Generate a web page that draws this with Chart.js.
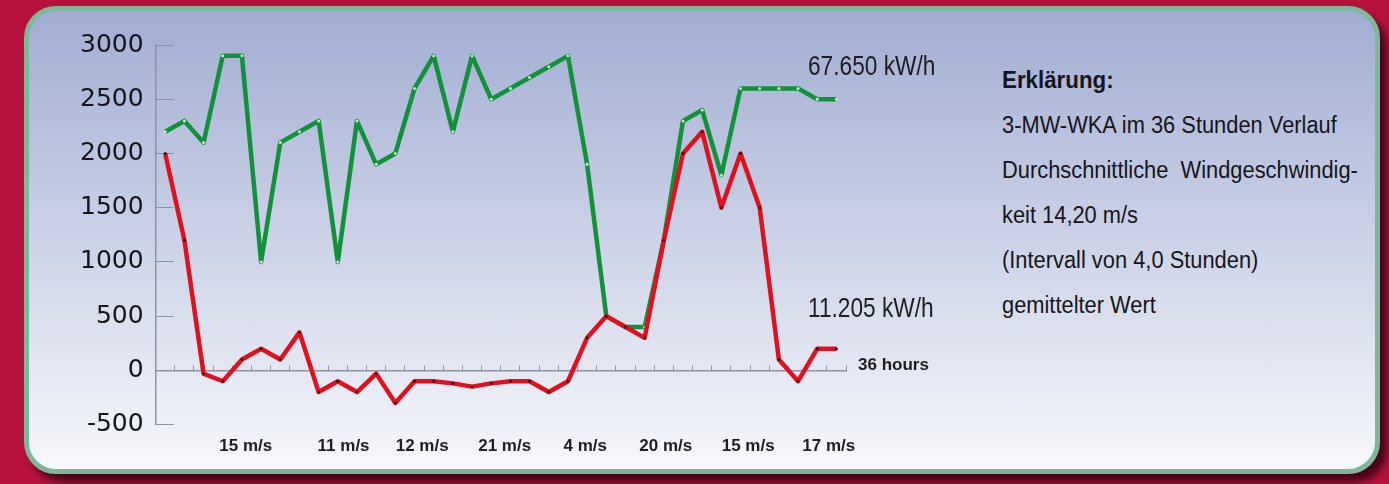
<!DOCTYPE html>
<html lang="de">
<head>
    <meta charset="UTF-8">
    <title>3-MW-WKA im 36 Stunden Verlauf</title>
    <script src="https://cdn.jsdelivr.net/npm/chart.js"></script>
    <style>
        html, body {
            margin: 0;
            padding: 0;
            width: 1389px;
            height: 484px;
            overflow: hidden;
            background: #b6123d;
        }
        .panel {
            position: absolute;
            left: 24px;
            top: 6px;
            width: 1356px;
            height: 468px;
            box-sizing: border-box;
            border: 5px solid #7db89b;
            border-radius: 32px;
            background: linear-gradient(#a1add2, #f7f8fc);
            box-shadow: 7px 8px 7px rgba(60, 4, 20, 0.9);
        }
        .chart-box {
            position: absolute;
            left: 0;
            top: 0;
            width: 960px;
            height: 484px;
        }
        /* schmale Schrift nachgebildet (kein Narrow-Font installiert) */
        .kw {
            position: absolute;
            left: 808px;
            font-family: 'Liberation Sans', Arial, sans-serif;
            font-size: 27px;
            line-height: 30px;
            color: #1d1d22;
            white-space: nowrap;
            transform: scaleX(0.84);
            transform-origin: left top;
        }
        .legend {
            position: absolute;
            left: 1002px;
            top: 57px;
            font-family: 'Liberation Sans', Arial, sans-serif;
            font-size: 23.5px;
            line-height: 45px;
            color: #15151a;
            white-space: pre;
            transform: scaleX(0.93);
            transform-origin: left top;
        }
        .legend b {
            font-size: 24px;
        }
    </style>
</head>
<body>
    <div class="panel"></div>
    <div class="chart-box"><canvas id="windChart"></canvas></div>
    <div class="kw" style="top: 51px;">67.650 kW/h</div>
    <div class="kw" style="top: 293px;">11.205 kW/h</div>
    <div class="legend"><b>Erklärung:</b>
3-MW-WKA im 36 Stunden Verlauf
Durchschnittliche  Windgeschwindig-
keit 14,20 m/s
(Intervall von 4,0 Stunden)
gemittelter Wert</div>

    <script>
        // Stunden 1..36
        const hours = Array.from({ length: 36 }, (_, i) => String(i + 1));

        // gruene Kurve (kW/h)
        const greenSeries = [2200, 2300, 2100, 2900, 2900, 1000, 2100, 2200, 2300, 1000,
                             2300, 1900, 2000, 2600, 2900, 2200, 2900, 2500, 2600, 2700,
                             2800, 2900, 1900, 500, 400, 400, 1200, 2300, 2400, 1800,
                             2600, 2600, 2600, 2600, 2500, 2500];

        // rote Kurve (kW/h)
        const redSeries = [2000, 1200, -30, -100, 100, 200, 100, 350, -200, -100,
                           -200, -30, -300, -100, -100, -120, -150, -120, -100, -100,
                           -200, -100, 300, 500, 400, 300, 1200, 2000, 2200, 1500,
                           2000, 1500, 100, -100, 200, 200];

        // Windgeschwindigkeit unter der Achse
        const windLabels = ['15 m/s', '11 m/s', '12 m/s', '21 m/s', '4 m/s', '20 m/s', '15 m/s', '17 m/s'];
        const windPositions = [4.2, 9.3, 13.4, 17.7, 21.9, 26.1, 30.4, 34.6];

        const yTicks = [-500, 0, 500, 1000, 1500, 2000, 2500, 3000];
        const xAxisTitle = '36 hours';

        const axisGray = '#8e93a4';

        // Beschriftung "36 hours" rechts an der Nulllinie
        const hoursLabel = {
            id: 'hoursLabel',
            afterDraw(chart) {
                const { ctx, scales: { x, y } } = chart;
                ctx.save();
                ctx.font = 'bold 17px "Liberation Sans", Arial, sans-serif';
                ctx.fillStyle = '#1d1d22';
                ctx.textBaseline = 'middle';
                ctx.fillText(xAxisTitle, x.right + 12, y.getPixelForValue(0) - 5);
                ctx.restore();
            }
        };

        const ctx = document.getElementById('windChart').getContext('2d');
        new Chart(ctx, {
            type: 'line',
            data: {
                labels: hours,
                datasets: [
                    {
                        data: redSeries,
                        borderColor: '#e0111f',
                        borderWidth: 4.5,
                        borderJoinStyle: 'round',
                        pointRadius: 1.5,
                        pointBorderWidth: 0,
                        pointBackgroundColor: '#4a0a0a',
                        tension: 0
                    },
                    {
                        data: greenSeries,
                        borderColor: '#12913b',
                        borderWidth: 4.5,
                        borderJoinStyle: 'round',
                        pointRadius: 1.5,
                        pointBorderWidth: 0,
                        pointBackgroundColor: '#cfe6d5',
                        tension: 0
                    }
                ]
            },
            options: {
                responsive: true,
                maintainAspectRatio: false,
                animation: false,
                layout: { padding: { left: 50, right: 114, top: 43, bottom: 15 } },
                plugins: {
                    legend: { display: false },
                    tooltip: { enabled: false }
                },
                scales: {
                    x: {
                        type: 'category',
                        position: { y: 0 },
                        offset: true,
                        grid: {
                            offset: true,
                            drawOnChartArea: false,
                            drawTicks: true,
                            tickLength: -6,
                            color: axisGray
                        },
                        border: { color: axisGray, width: 1.5 },
                        ticks: { display: false }
                    },
                    wind: {
                        type: 'linear',
                        position: 'bottom',
                        min: -0.5,
                        max: 35.5,
                        afterBuildTicks: (axis) => {
                            axis.ticks = windPositions.map(v => ({ value: v }));
                        },
                        grid: { display: false, drawTicks: false },
                        border: { display: false },
                        ticks: {
                            autoSkip: false,
                            maxRotation: 0,
                            padding: 12,
                            color: '#1d1d22',
                            font: { family: '"Liberation Sans", Arial, sans-serif', size: 17, weight: 'bold' },
                            callback: (value, index) => windLabels[index]
                        }
                    },
                    y: {
                        min: -500,
                        max: 3000,
                        afterBuildTicks: (axis) => {
                            axis.ticks = yTicks.map(v => ({ value: v }));
                        },
                        grid: {
                            drawOnChartArea: false,
                            drawTicks: true,
                            tickLength: -18,
                            color: axisGray
                        },
                        border: { color: axisGray, width: 1.5 },
                        ticks: {
                            padding: 30,
                            color: '#15151c',
                            font: { family: '"DejaVu Sans", sans-serif', size: 25 },
                            callback: (value) => String(value)
                        }
                    }
                }
            },
            plugins: [hoursLabel]
        });
    </script>
</body>
</html>
